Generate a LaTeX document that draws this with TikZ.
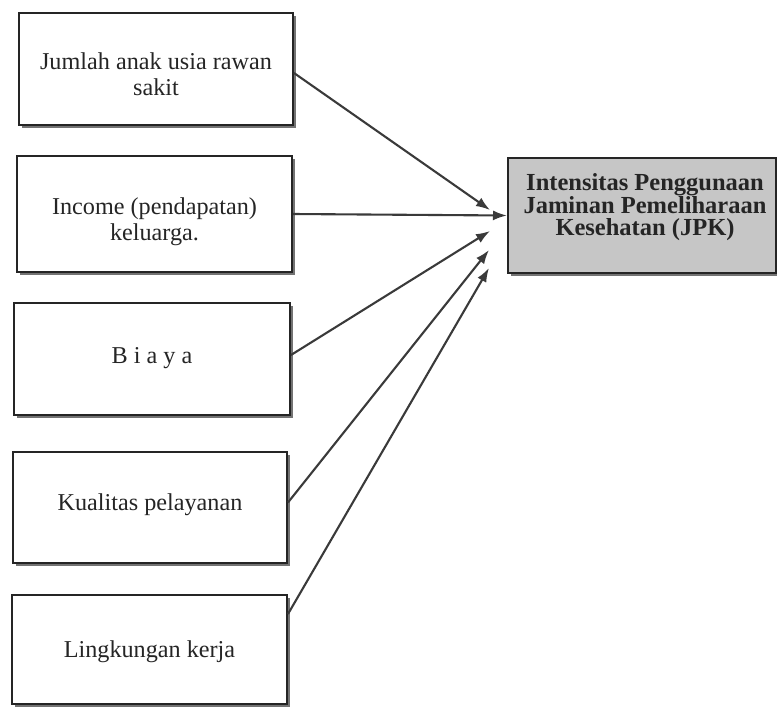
\documentclass[tikz,border=0pt]{standalone}
\usepackage{fontspec}
\setmainfont{Liberation Serif}
\usetikzlibrary{arrows.meta,shadows,calc}
\definecolor{ink}{HTML}{252525}
\definecolor{linec}{HTML}{3A3A3A}
\definecolor{shade}{HTML}{C6C6C6}
\begin{document}
\begin{tikzpicture}[x=1pt,y=-1pt,
  box/.style={draw=ink,line width=2pt,fill=white,inner sep=0pt,
    general shadow={shadow xshift=2.5pt,shadow yshift=-2.5pt,fill=black!55}},
  boxtext/.style={align=center,text=ink,font=\fontsize{24.2}{26}\selectfont,inner sep=0pt},
  targettext/.style={align=center,text=ink,font=\bfseries\fontsize{24.5}{22.5}\selectfont,inner sep=0pt},
  conn/.style={draw=linec,line width=2.1pt,-{Latex[length=14pt,width=10pt]}}]
\useasboundingbox (0,0) rectangle (777,707);
\node[box,minimum width=274pt,minimum height=112pt,
  label={[boxtext,yshift=-5pt]center:{Jumlah anak usia rawan\\sakit}}] (b1) at (156,69) {};
\node[box,minimum width=275pt,minimum height=116pt,
  label={[boxtext,yshift=-8pt]center:{Income (pendapatan)\\keluarga.}}] (b2) at (154.5,214) {};
\node[box,minimum width=276pt,minimum height=112pt,
  label={[boxtext,yshift=1pt]center:{B i a y a}}] (b3) at (152,359) {};
\node[box,minimum width=274pt,minimum height=111pt,
  label={[boxtext,yshift=3pt]center:{Kualitas pelayanan}}] (b4) at (150,507.5) {};
\node[box,minimum width=275pt,minimum height=109pt,
  label={[boxtext,yshift=-2pt]center:{Lingkungan kerja}}] (b5) at (149.5,649.5) {};
\node[box,fill=shade,minimum width=268pt,minimum height=115pt,
  label={[targettext,yshift=8pt,xshift=3pt]center:{Intensitas Penggunaan\\Jaminan Pemeliharaan\\Kesehatan (JPK)}}] (jpk) at (642,215.5) {};
\coordinate (t1) at (490,210);
\coordinate (t3) at (490,231);
\coordinate (t4) at (489,250);
\coordinate (t5) at (489,268);
\draw[conn] ([yshift=-4pt]b1.east) -- (t1);
\draw[conn] (b2.east) -- (jpk.west);
\draw[conn] ([yshift=4pt]b3.east) -- (t3);
\draw[conn] ([yshift=5pt]b4.east) -- (t4);
\draw[conn] ([yshift=-20pt]b5.north east) -- (t5);
\end{tikzpicture}
\end{document}
